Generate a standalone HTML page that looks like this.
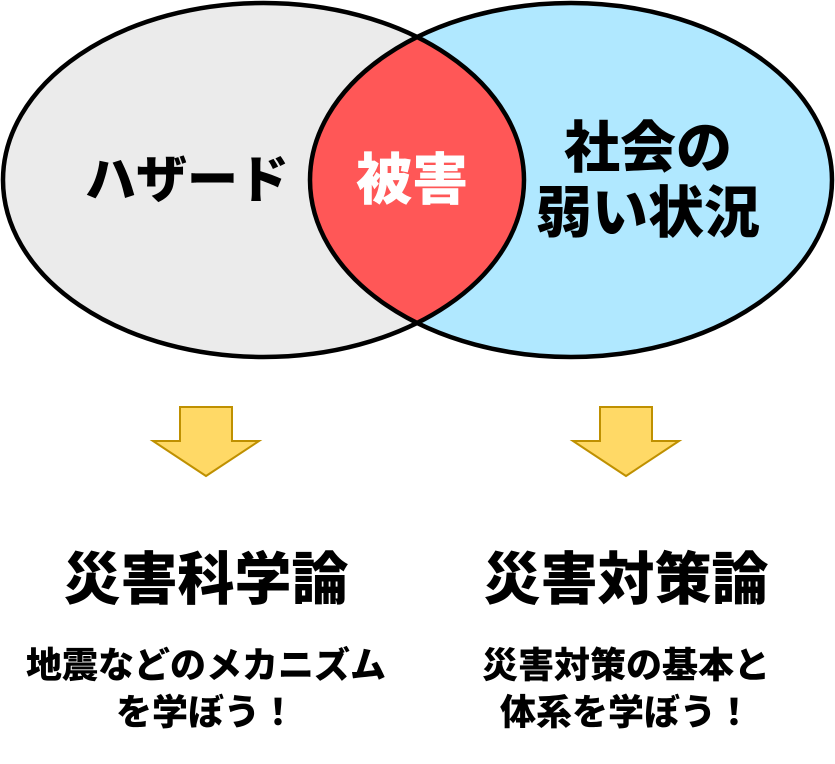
<!DOCTYPE html>
<html><head><meta charset="utf-8"><style>
html,body{margin:0;padding:0;background:#fff;}
svg{display:block;}
text{font-family:"Liberation Sans","Noto Sans CJK JP",sans-serif;font-weight:900;text-anchor:middle;dominant-baseline:central;}
</style></head><body>
<svg width="835" height="764" viewBox="0 0 835 764" xmlns="http://www.w3.org/2000/svg">
<defs>
<clipPath id="lc"><ellipse cx="263.5" cy="180" rx="260.5" ry="177"/></clipPath>
</defs>
<ellipse cx="263.5" cy="180" rx="260.5" ry="177" fill="#ebebeb"/>
<ellipse cx="571" cy="180" rx="261" ry="177" fill="#b0e8ff"/>
<ellipse cx="571" cy="180" rx="261" ry="177" fill="#ff5757" clip-path="url(#lc)"/>
<ellipse cx="263.5" cy="180" rx="260.5" ry="177" fill="none" stroke="#000" stroke-width="4.5"/>
<ellipse cx="571" cy="180" rx="261" ry="177" fill="none" stroke="#000" stroke-width="4.5"/>
<text x="187" y="180" font-size="51">ハザード</text>
<text x="412" y="180" font-size="56" fill="#fff">被害</text>
<text x="648" y="148" font-size="56">社会の</text>
<text x="648" y="213" font-size="56">弱い状況</text>
<polygon points="180,407 232,407 232,441 259,441 206,476 153,441 180,441" fill="#ffd966" stroke="#bf9000" stroke-width="2"/>
<polygon points="600,407 652,407 652,441 679,441 626,476 573,441 600,441" fill="#ffd966" stroke="#bf9000" stroke-width="2"/>
<text x="206" y="580" font-size="57">災害科学論</text>
<text x="626" y="580" font-size="57">災害対策論</text>
<text x="206" y="665" font-size="36">地震などのメカニズム</text>
<text x="206" y="712" font-size="36">を学ぼう！</text>
<text x="626" y="665" font-size="36">災害対策の基本と</text>
<text x="626" y="712" font-size="36">体系を学ぼう！</text>
</svg>
</body></html>
